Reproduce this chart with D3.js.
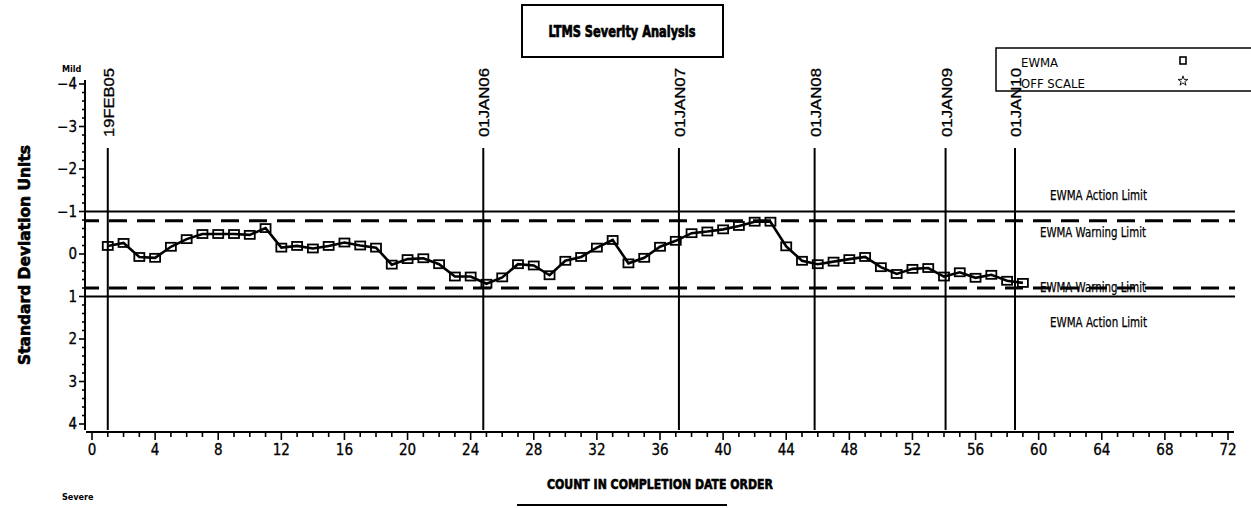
<!DOCTYPE html>
<html><head><meta charset="utf-8">
<script src="https://cdn.jsdelivr.net/npm/d3@7"></script>
<style>body{margin:0;background:#fff}svg{display:block}</style>
</head><body>
<script>
const counts = d3.range(1, 60);
const ewma = [-0.19,-0.26,0.07,0.09,-0.17,-0.35,-0.47,-0.47,-0.47,-0.45,
  -0.61,-0.15,-0.19,-0.13,-0.19,-0.27,-0.20,-0.15,0.25,0.12,
  0.10,0.24,0.53,0.53,0.70,0.55,0.24,0.27,0.50,0.16,
  0.07,-0.15,-0.33,0.22,0.09,-0.17,-0.31,-0.49,-0.53,-0.58,
  -0.66,-0.76,-0.76,-0.18,0.16,0.24,0.18,0.12,0.07,0.31,
  0.47,0.35,0.33,0.53,0.43,0.56,0.49,0.63,0.68];
const dateLabels = ["19FEB05","01JAN06","01JAN07","01JAN08","01JAN09","01JAN10"];
const datePos = [1, 24.8, 37.2, 45.8, 54.1, 58.5];
const actionLimits = [-1, 1];
const warningLimits = [-0.78, 0.8];
const xTicks = d3.range(0, 73, 4);
const yTicks = d3.range(-4, 5, 1);

const W = 1251, H = 508;
const NARROW = "'DejaVu Sans Condensed','Liberation Sans Narrow',Arial,sans-serif";
const SANS = "'Liberation Sans',Arial,sans-serif";
const svg = d3.select("body").append("svg").attr("width", W).attr("height", H);

const x = d3.scaleLinear().domain([0, 72]).range([92, 1228]);
const y = d3.scaleLinear().domain([-4, 4]).range([84, 424]);

// Title box
svg.append("rect").attr("x", 522).attr("y", 5).attr("width", 201).attr("height", 52)
  .attr("fill", "none").attr("stroke", "#000").attr("stroke-width", 2);
svg.append("text").attr("x", 622).attr("y", 37).attr("text-anchor", "middle")
  .attr("font-family", NARROW).attr("font-weight", "bold").attr("font-size", 15.5)
  .attr("stroke", "#000").attr("stroke-width", 0.7)
  .attr("textLength", 147).attr("lengthAdjust", "spacingAndGlyphs")
  .text("LTMS Severity Analysis");

// Legend
svg.append("path").attr("d", "M1260,48H996V91H1260").attr("fill", "none")
  .attr("stroke", "#000").attr("stroke-width", 1.5);
svg.append("text").attr("x", 1021).attr("y", 67).attr("font-family", NARROW)
  .attr("font-size", 13).text("EWMA");
svg.append("text").attr("x", 1021).attr("y", 88).attr("font-family", NARROW)
  .attr("font-size", 13).text("OFF SCALE");
svg.append("rect").attr("x", 1180).attr("y", 57).attr("width", 6).attr("height", 7)
  .attr("fill", "#fff").attr("stroke", "#000").attr("stroke-width", 1.6);
svg.append("path").attr("d", d3.symbol(d3.symbolStar, 30)()).attr("transform", "translate(1183,81)")
  .attr("fill", "none").attr("stroke", "#000").attr("stroke-width", 0.9);

// Y axis
svg.append("line").attr("x1", 85).attr("x2", 85).attr("y1", 80).attr("y2", 430)
  .attr("stroke", "#000").attr("stroke-width", 2);
const yMinor = d3.range(-40, 41, 2).map(v => v / 10);
svg.append("g").selectAll("line").data(yMinor).join("line")
  .attr("x1", d => Number.isInteger(d) ? 79 : 82).attr("x2", 85)
  .attr("y1", d => y(d)).attr("y2", d => y(d))
  .attr("stroke", "#000").attr("stroke-width", 1.6);
svg.append("g").selectAll("text").data(yTicks).join("text")
  .attr("x", 77).attr("y", d => y(d) + 5).attr("text-anchor", "end")
  .attr("font-family", NARROW).attr("font-size", 15)
  .attr("stroke", "#000").attr("stroke-width", 0.3)
  .text(d => d < 0 ? "\u2212" + Math.abs(d) : d);

// X axis
svg.append("line").attr("x1", 86).attr("x2", 1234).attr("y1", 432).attr("y2", 432)
  .attr("stroke", "#000").attr("stroke-width", 2);
svg.append("g").selectAll("line").data(d3.range(0, 73)).join("line")
  .attr("x1", d => x(d)).attr("x2", d => x(d))
  .attr("y1", 432).attr("y2", d => d % 4 === 0 ? 440 : 437)
  .attr("stroke", "#000").attr("stroke-width", 1.6);
svg.append("g").selectAll("text").data(xTicks).join("text")
  .attr("x", d => x(d)).attr("y", 455).attr("text-anchor", "middle")
  .attr("font-family", NARROW).attr("font-size", 15)
  .attr("stroke", "#000").attr("stroke-width", 0.3).text(d => d);

// Limits
svg.append("g").selectAll("line").data(actionLimits).join("line")
  .attr("x1", 85).attr("x2", 1235).attr("y1", d => y(d)).attr("y2", d => y(d))
  .attr("stroke", "#000").attr("stroke-width", 2);
svg.append("g").selectAll("line").data(warningLimits).join("line")
  .attr("x1", 85).attr("x2", 1235).attr("y1", d => y(d)).attr("y2", d => y(d))
  .attr("stroke", "#000").attr("stroke-width", 3).attr("stroke-dasharray", "18,10")
  .attr("stroke-dashoffset", 4);

// Date lines
datePos.forEach((p, i) => {
  svg.append("line").attr("x1", x(p)).attr("x2", x(p)).attr("y1", 148).attr("y2", 430)
    .attr("stroke", "#000").attr("stroke-width", 2);
  svg.append("text").attr("transform", `translate(${x(p) + 6},137) rotate(-90)`)
    .attr("font-family", SANS).attr("font-size", 14.5)
    .attr("stroke", "#000").attr("stroke-width", 0.3)
    .attr("textLength", 69).attr("lengthAdjust", "spacingAndGlyphs").text(dateLabels[i]);
});

// Limit labels
const limitText = [
  {t: "EWMA Action Limit", yy: 200, x0: 1050, w: 97},
  {t: "EWMA Warning Limit", yy: 237, x0: 1040, w: 106},
  {t: "EWMA Warning Limit", yy: 292, x0: 1040, w: 106},
  {t: "EWMA Action Limit", yy: 327, x0: 1050, w: 97}
];
svg.append("g").selectAll("text").data(limitText).join("text")
  .attr("x", d => d.x0).attr("y", d => d.yy).attr("font-family", NARROW)
  .attr("font-size", 14).attr("stroke", "#000").attr("stroke-width", 0.25)
  .attr("textLength", d => d.w).attr("lengthAdjust", "spacingAndGlyphs")
  .text(d => d.t);

// Series
const line = d3.line().x((d, i) => x(counts[i])).y(d => y(d));
svg.append("path").datum(ewma).attr("d", line).attr("fill", "none")
  .attr("stroke", "#000").attr("stroke-width", 2.6);
svg.append("g").selectAll("rect").data(ewma).join("rect")
  .attr("x", (d, i) => x(counts[i]) - 5).attr("y", d => y(d) - 4)
  .attr("width", 10).attr("height", 8)
  .attr("fill", "none").attr("stroke", "#000").attr("stroke-width", 1.8);

// Axis titles
svg.append("text").attr("transform", "translate(30,255) rotate(-90)").attr("text-anchor", "middle")
  .attr("font-family", NARROW).attr("font-weight", "bold").attr("font-size", 15)
  .attr("stroke", "#000").attr("stroke-width", 0.6)
  .attr("textLength", 220).attr("lengthAdjust", "spacingAndGlyphs").text("Standard Deviation Units");
svg.append("text").attr("x", 660).attr("y", 489).attr("text-anchor", "middle")
  .attr("font-family", NARROW).attr("font-weight", "bold").attr("font-size", 14.5)
  .attr("stroke", "#000").attr("stroke-width", 0.6)
  .attr("textLength", 226).attr("lengthAdjust", "spacingAndGlyphs").text("COUNT IN COMPLETION DATE ORDER");
svg.append("line").attr("x1", 517).attr("x2", 727).attr("y1", 505).attr("y2", 505)
  .attr("stroke", "#000").attr("stroke-width", 2);
svg.append("text").attr("x", 62).attr("y", 72).attr("font-family", NARROW)
  .attr("font-weight", "bold").attr("font-size", 9).text("Mild");
svg.append("text").attr("x", 62).attr("y", 500).attr("font-family", NARROW)
  .attr("font-weight", "bold").attr("font-size", 9).text("Severe");
</script>
</body></html>
